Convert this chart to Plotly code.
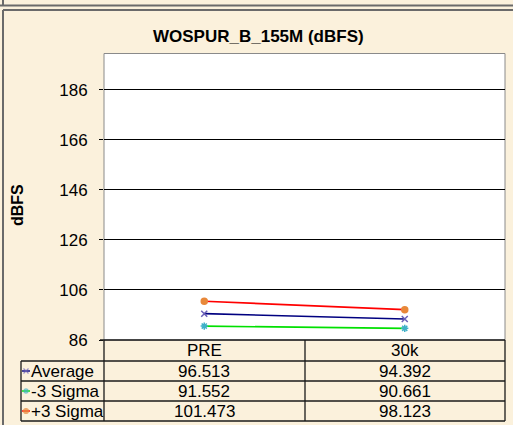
import plotly.graph_objects as go

# ---- data -------------------------------------------------------------
categories = ["PRE", "30k"]
series_names = ["Average", "-3 Sigma", "+3 Sigma"]
average = [96.513, 94.392]
minus_3_sigma = [91.552, 90.661]
plus_3_sigma = [101.473, 98.123]
y_ticks = [86, 106, 126, 146, 166, 186]
chart_title = "WOSPUR_B_155M (dBFS)"
y_title = "dBFS"

# ---- geometry (pixels) ------------------------------------------------
W, H = 513, 425
H_LAYOUT = H + 10
PL, PR, PT, PB = 104, 505, 53.5, 340           # plot area box
Y_RANGE = [86, 200.4]
ROW_LINES = [340, 361, 381, 401, 421]           # table horizontal rules
TBL_LEFT, COL_MID = 21, 305

FONT = "Arial, Liberation Sans, sans-serif"
BG = "#FBF1DC"
FRAME = "#6A6A6A"
RULE = "#1A1A1A"


def px(x):
    return x / W


def py(y):
    return 1 - y / H


series_values = [average, minus_3_sigma, plus_3_sigma]
line_colors = ["#000080", "#00E000", "#FF0000"]
marker_colors = ["#6A5FB8", "#3FB0C8", "#E8883A"]
marker_symbols = ["x-thin-open", "asterisk-open", "circle"]

fig = go.Figure()

for name, vals, lc, mc, sym in zip(series_names, series_values,
                                   line_colors, marker_colors, marker_symbols):
    fig.add_trace(go.Scatter(
        x=categories, y=vals, name=name, mode="lines+markers",
        line=dict(color=lc, width=1.6),
        marker=dict(symbol=sym, size=6, color=mc, line=dict(color=mc, width=1.5)),
        xaxis="x", yaxis="y", showlegend=False, cliponaxis=False,
    ))

# legend keys inside the table's label column (pixel overlay axes)
for i, (lc, mc, sym) in enumerate(zip(line_colors, marker_colors, marker_symbols)):
    yc = (ROW_LINES[i + 1] + ROW_LINES[i + 2]) / 2
    fig.add_trace(go.Scatter(
        x=[22, 26, 30], y=[yc, yc, yc], mode="lines+markers",
        line=dict(color=lc, width=1.4),
        marker=dict(symbol=sym, size=[0, 5, 0], color=mc,
                    line=dict(color=mc, width=1.2)),
        xaxis="x2", yaxis="y2", showlegend=False, hoverinfo="skip",
    ))

shapes = []
# white plot area
shapes.append(dict(type="rect", xref="paper", yref="paper",
                   x0=px(PL), x1=px(PR), y0=py(PB), y1=py(PT),
                   fillcolor="white", line=dict(color="#8A8A8A", width=1),
                   layer="below"))
# outer frames
shapes.append(dict(type="line", xref="paper", yref="paper",
                   x0=0, x1=1, y0=py(5.5), y1=py(5.5),
                   line=dict(color=FRAME, width=2)))
shapes.append(dict(type="line", xref="paper", yref="paper",
                   x0=px(3), x1=px(3), y0=py(0), y1=py(5.5),
                   line=dict(color=FRAME, width=2)))
shapes.append(dict(type="line", xref="paper", yref="paper",
                   x0=px(3), x1=1, y0=py(10), y1=py(10),
                   line=dict(color=FRAME, width=2)))
shapes.append(dict(type="line", xref="paper", yref="paper",
                   x0=px(3), x1=px(3), y0=py(10), y1=py(H_LAYOUT),
                   line=dict(color=FRAME, width=2)))

# data table rules
shapes.append(dict(type="line", xref="paper", yref="paper",
                   x0=px(PL - 4), x1=px(PR), y0=py(ROW_LINES[0]), y1=py(ROW_LINES[0]),
                   line=dict(color=RULE, width=1.3)))
for yl in ROW_LINES[1:]:
    shapes.append(dict(type="line", xref="paper", yref="paper",
                       x0=px(TBL_LEFT), x1=px(PR), y0=py(yl), y1=py(yl),
                       line=dict(color=RULE, width=1.3)))
for xl in (PL, COL_MID, PR):
    shapes.append(dict(type="line", xref="paper", yref="paper",
                       x0=px(xl), x1=px(xl), y0=py(ROW_LINES[0]), y1=py(ROW_LINES[-1]),
                       line=dict(color=RULE, width=1.3)))
shapes.append(dict(type="line", xref="paper", yref="paper",
                   x0=px(TBL_LEFT), x1=px(TBL_LEFT), y0=py(ROW_LINES[1]), y1=py(ROW_LINES[-1]),
                   line=dict(color=RULE, width=1.3)))

annotations = []
annotations.append(dict(text=f"<b>{chart_title}</b>", xref="paper", yref="paper",
                        x=px(258), y=py(37), xanchor="center", yanchor="middle",
                        showarrow=False, font=dict(family=FONT, size=17, color="black")))
annotations.append(dict(text=f"<b>{y_title}</b>", xref="paper", yref="paper",
                        x=px(17), y=py(205), xanchor="center", yanchor="middle",
                        textangle=-90, showarrow=False,
                        font=dict(family=FONT, size=16, color="black")))

cell_font = dict(family=FONT, size=17, color="black")
header_y = (ROW_LINES[0] + ROW_LINES[1]) / 2
for cat in categories:
    annotations.append(dict(text=cat, xref="x", yref="paper", x=cat, y=py(header_y),
                            xanchor="center", yanchor="middle", showarrow=False,
                            font=cell_font))
for i, (name, vals) in enumerate(zip(series_names, series_values)):
    yc = (ROW_LINES[i + 1] + ROW_LINES[i + 2]) / 2
    annotations.append(dict(text=name, xref="paper", yref="paper", x=px(29), y=py(yc),
                            xanchor="left", yanchor="middle", showarrow=False,
                            font=cell_font))
    for cat, v in zip(categories, vals):
        annotations.append(dict(text=f"{v:.3f}", xref="x", yref="paper", x=cat, y=py(yc),
                                xanchor="center", yanchor="middle", showarrow=False,
                                font=cell_font))

fig.update_layout(
    autosize=False,
    width=W, height=H_LAYOUT,
    margin=dict(l=0, r=0, t=0, b=0),
    paper_bgcolor=BG, plot_bgcolor="rgba(0,0,0,0)",
    xaxis=dict(domain=[px(PL), px(PR)], type="category", range=[-0.5, 1.5],
               showgrid=False, showline=False, zeroline=False,
               showticklabels=False, ticks="", fixedrange=True),
    yaxis=dict(domain=[py(PB), py(PT)], range=Y_RANGE, tickvals=y_ticks,
               showgrid=True, gridcolor="black", gridwidth=1,
               showline=False, zeroline=False,
               ticks="outside", ticklen=4, tickcolor="black", tickwidth=1,
               ticklabelstandoff=8,
               tickfont=dict(family=FONT, size=17, color="black"), fixedrange=True),
    xaxis2=dict(domain=[0, 1], range=[0, W], visible=False, anchor="y2", fixedrange=True),
    yaxis2=dict(domain=[0, 1], range=[H, 0], visible=False, anchor="x2", fixedrange=True),
    shapes=shapes,
    annotations=annotations,
    showlegend=False,
)

fig.write_html("out.html")
